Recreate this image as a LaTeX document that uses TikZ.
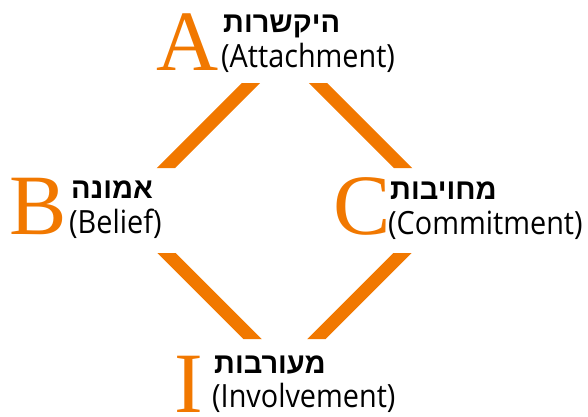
\documentclass[tikz,border=0pt]{standalone}
\usepackage{fontspec}
\usepackage{tikz}
\usetikzlibrary{positioning}
\TeXXeTstate=1
\newfontfamily\letterfont{Liberation Serif}
\newfontfamily\hebfont[Script=Hebrew,BoldFont={Liberation Sans Bold}]{Liberation Sans}
\newfontfamily\engfont[FakeStretch=0.9]{Open Sans}
\definecolor{bondorange}{RGB}{241,120,0}
\tikzset{
  bigletter/.style={text=bondorange,font=\letterfont\fontsize{86}{86}\selectfont,inner sep=0pt,anchor=base west},
  heblabel/.style={font=\hebfont\bfseries\fontsize{29}{29}\selectfont,inner sep=0pt,anchor=base west},
  englabel/.style={font=\engfont\fontsize{32}{32}\selectfont,inner sep=0pt,anchor=base west},
  bond/.style={draw=bondorange,line width=13pt}
}
\begin{document}
\begin{tikzpicture}[x=1pt,y=-1pt]
    \useasboundingbox (0,0) rectangle (588,416);
    % corners of the diamond
    \coordinate (pA) at (284.5,49.5);
    \coordinate (pB) at (123.75,210.25);
    \coordinate (pC) at (445.25,210.25);
    \coordinate (pI) at (284.5,371);
    % the four bonds, cut flat top and bottom
    \begin{scope}
      \clip (0,83) rectangle (588,168) (0,253) rectangle (588,339);
      \draw[bond] (pA) -- (pB) -- (pI) -- (pC) -- cycle;
    \end{scope}
    % letters
    \node[bigletter] (A) at (156,70) {A};
    \node[bigletter] (B) at (9,234) {B};
    \node[bigletter] (C) at (333,234) {C};
    \node[bigletter] (I) at (174,412) {I};
    % labels
    \node[heblabel] (Aheb) at (223,32) {\beginR היקשרות\endR};
    \node[englabel] (Aeng) at (221,67) {(Attachment)};
    \node[heblabel] (Bheb) at (71,198) {\beginR אמונה\endR};
    \node[englabel] (Beng) at (69,233) {(Belief)};
    \node[heblabel] (Cheb) at (390,199) {\beginR מחויבות\endR};
    \node[englabel] (Ceng) at (388,234) {(Commitment)};
    \node[heblabel] (Iheb) at (214,373) {\beginR מעורבות\endR};
    \node[englabel] (Ieng) at (212,407) {(Involvement)};
\end{tikzpicture}
\end{document}
